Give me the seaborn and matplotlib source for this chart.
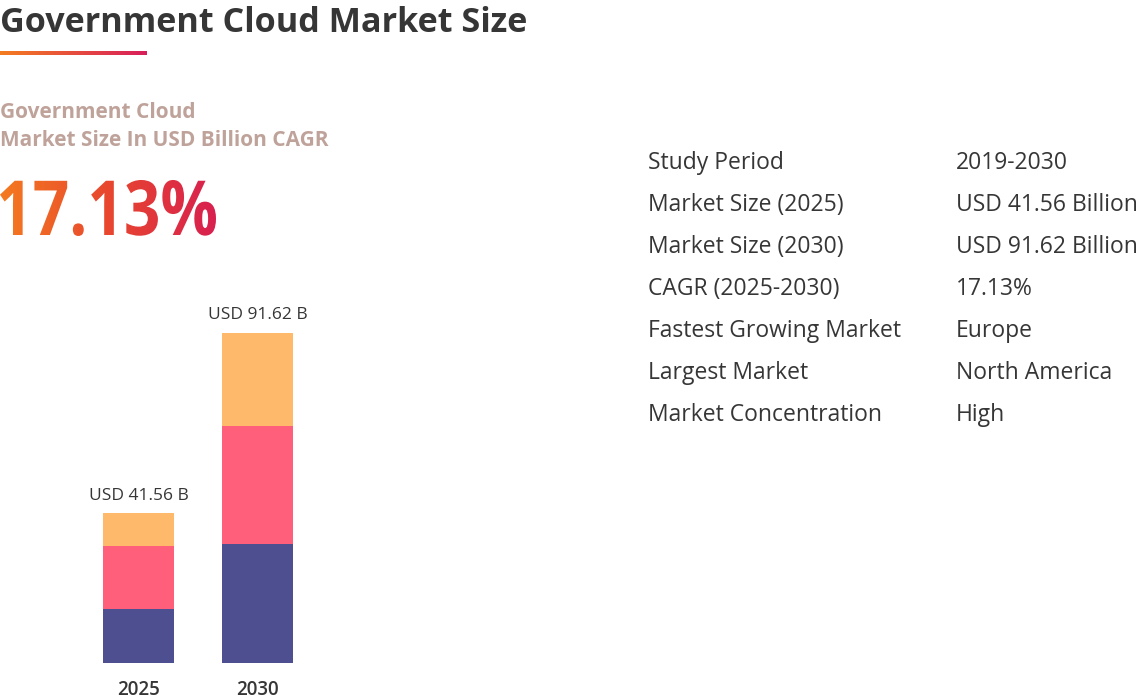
import numpy as np
import pandas as pd
import matplotlib
matplotlib.use("Agg")
import matplotlib.pyplot as plt
import seaborn as sns
from matplotlib.textpath import TextPath
from matplotlib.patches import PathPatch
from matplotlib.font_manager import FontProperties
from matplotlib.colors import LinearSegmentedColormap
from matplotlib.transforms import Affine2D

# data
years = ["2025", "2030"]
totals = [41.56, 91.62]
seg_bottom = [15.0, 33.0]
seg_middle = [17.4, 32.7]
seg_top = [9.16, 25.92]
total_labels = ["USD 41.56 B", "USD 91.62 B"]

title = "Government Cloud Market Size"
subtitle = ["Government Cloud", "Market Size In USD Billion CAGR"]
cagr_text = "17.13%"

row_labels = ["Study Period", "Market Size (2025)", "Market Size (2030)", "CAGR (2025-2030)",
              "Fastest Growing Market", "Largest Market", "Market Concentration"]
row_values = ["2019-2030", "USD 41.56 Billion", "USD 91.62 Billion", "17.13%",
              "Europe", "North America", "High"]

c_blue = "#4d4f91"
c_red = "#ff5f7a"
c_orange = "#ffb96b"
c_text = "#363636"

sns.set_theme(style="white")
plt.rcParams['font.family'] = ['Open Sans', 'DejaVu Sans']

W, H = 1138, 698
fig = plt.figure(figsize=(W / 100, H / 100), dpi=100)
fig.patch.set_facecolor("white")

def Y(y):
    return H - y

# stacked bars: draw cumulative heights from the top segment down
df = pd.DataFrame({"year": years,
                   "lvl1": seg_bottom,
                   "lvl2": np.add(seg_bottom, seg_middle),
                   "lvl3": np.add(np.add(seg_bottom, seg_middle), seg_top)})

ax = fig.add_axes([79 / W, 35 / H, 238 / W, 360 / H])
for col, c in [("lvl3", c_orange), ("lvl2", c_red), ("lvl1", c_blue)]:
    sns.barplot(data=df, x="year", y=col, color=c, saturation=1, width=0.6,
                linewidth=0, ax=ax)
ax.bar_label(ax.containers[0], labels=total_labels, padding=7, fontsize=12.5,
             color=c_text, fontweight='medium')
ax.set_xlim(-0.5, 1.5)
ax.set_ylim(0, 100)
ax.set_xlabel("")
ax.set_ylabel("")
ax.set_yticks([])
ax.tick_params(axis='x', length=0, pad=12, labelsize=13.5, labelcolor=c_text)
for lab in ax.get_xticklabels():
    lab.set_fontweight('semibold')
sns.despine(ax=ax, left=True, bottom=True)
ax.patch.set_alpha(0)

# overlay for the text block, in pixel coordinates
ov = fig.add_axes([0, 0, 1, 1])
ov.axis('off')

ov.text(0, Y(23), title, fontsize=24.6, fontweight='bold', color=c_text, va='center')

grad_cmap = LinearSegmentedColormap.from_list("og", ["#f47c20", "#d81e5b"])
grad = np.linspace(0, 1, 256).reshape(1, -1)
ov.imshow(grad, extent=[0, 147, Y(55), Y(51)], cmap=grad_cmap, aspect='auto')

ov.text(0, Y(112), subtitle[0], fontsize=15, fontweight='bold', color="#bfa39a", va='center')
ov.text(0, Y(141), subtitle[1], fontsize=15, fontweight='bold', color="#bfa39a", va='center')

# big CAGR number with an orange-to-crimson gradient fill
big_cmap = LinearSegmentedColormap.from_list("big", ["#f47a1f", "#e8472f", "#d8204f"])
tp = TextPath((0, 0), cagr_text, size=76, prop=FontProperties(family='Open Sans', weight='bold'))
ext = tp.get_extents()
sx = 216 / ext.width
tp = tp.transformed(Affine2D().translate(-ext.x0, 0).scale(sx, 1).translate(0, Y(235)))
patch = PathPatch(tp, facecolor='none', edgecolor='none', transform=ov.transData)
ov.add_patch(patch)
bb = tp.get_extents()
im = ov.imshow(grad, extent=[bb.x0, bb.x1, bb.y0, bb.y1], cmap=big_cmap, aspect='auto')
im.set_clip_path(patch)

for i, (lab, val) in enumerate(zip(row_labels, row_values)):
    yy = Y(163 + 42 * i)
    ov.text(648, yy, lab, fontsize=16.5, color=c_text, va='center')
    ov.text(956, yy, val, fontsize=16.5, color=c_text, va='center')

ov.set_xlim(0, W)
ov.set_ylim(0, H)

fig.savefig("out.png", dpi=100)
